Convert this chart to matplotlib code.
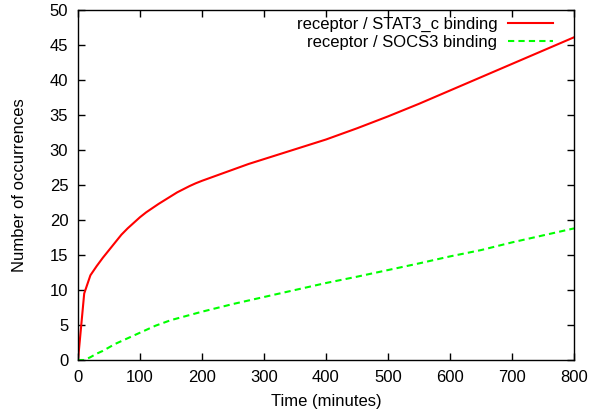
import matplotlib
matplotlib.use("Agg")
import matplotlib.pyplot as plt

# time in minutes
time_stat3 = [0, 10, 20, 30, 40, 50, 60, 70, 80, 90, 100, 110, 120, 130, 140,
              150, 160, 170, 180, 190, 200, 225, 250, 275, 300, 350, 400, 450,
              500, 550, 600, 650, 700, 750, 800]
stat3_binding = [0, 9.5, 12.1, 13.4, 14.6, 15.7, 16.8, 17.9, 18.8, 19.6, 20.4,
                 21.1, 21.7, 22.3, 22.85, 23.4, 23.95, 24.4, 24.85, 25.25, 25.6,
                 26.4, 27.2, 28.0, 28.7, 30.1, 31.5, 33.1, 34.8, 36.6, 38.5,
                 40.4, 42.3, 44.2, 46.1]

time_socs3 = [0, 10, 20, 30, 40, 50, 60, 80, 100, 125, 150, 175, 200, 250, 300,
              350, 400, 450, 500, 550, 600, 650, 700, 750, 800]
socs3_binding = [0, 0, 0.4, 0.9, 1.3, 1.8, 2.3, 3.1, 3.9, 4.9, 5.7, 6.3, 6.9,
                 8.0, 9.0, 10.0, 11.0, 11.9, 12.85, 13.8, 14.8, 15.7, 16.8,
                 17.8, 18.8]

x_ticks = [0, 100, 200, 300, 400, 500, 600, 700, 800]
y_ticks = [0, 5, 10, 15, 20, 25, 30, 35, 40, 45, 50]

plt.rcParams['font.family'] = ['Liberation Sans', 'DejaVu Sans']

fig = plt.figure(figsize=(5.9, 4.15), dpi=100)
ax = fig.add_axes([78 / 590, 55 / 415, 496 / 590, 350 / 415])

ax.plot(time_stat3, stat3_binding, color='#ff0000', linewidth=1.5,
        label='receptor / STAT3_c binding')
ax.plot(time_socs3, socs3_binding, color='#00ff00', linewidth=1.5,
        dashes=(3, 2), label='receptor / SOCS3 binding')

ax.set_xlim(0, 800)
ax.set_ylim(0, 50)
ax.set_xticks(x_ticks)
ax.set_yticks(y_ticks)
ax.tick_params(direction='in', top=True, right=True, length=5, width=1,
               labelsize=12, pad=7)
for s in ax.spines.values():
    s.set_linewidth(1)

ax.set_xlabel('Time (minutes)', fontsize=12, labelpad=7)
ax.set_ylabel('Number of occurrences', fontsize=12, labelpad=16)

leg = ax.legend(loc='upper right', bbox_to_anchor=(0.958, 0.981),
                markerfirst=False, frameon=False, fontsize=12,
                handlelength=2.7, handletextpad=0.65, labelspacing=0.17,
                borderpad=0, borderaxespad=0)

fig.savefig('out.png', dpi=100)
